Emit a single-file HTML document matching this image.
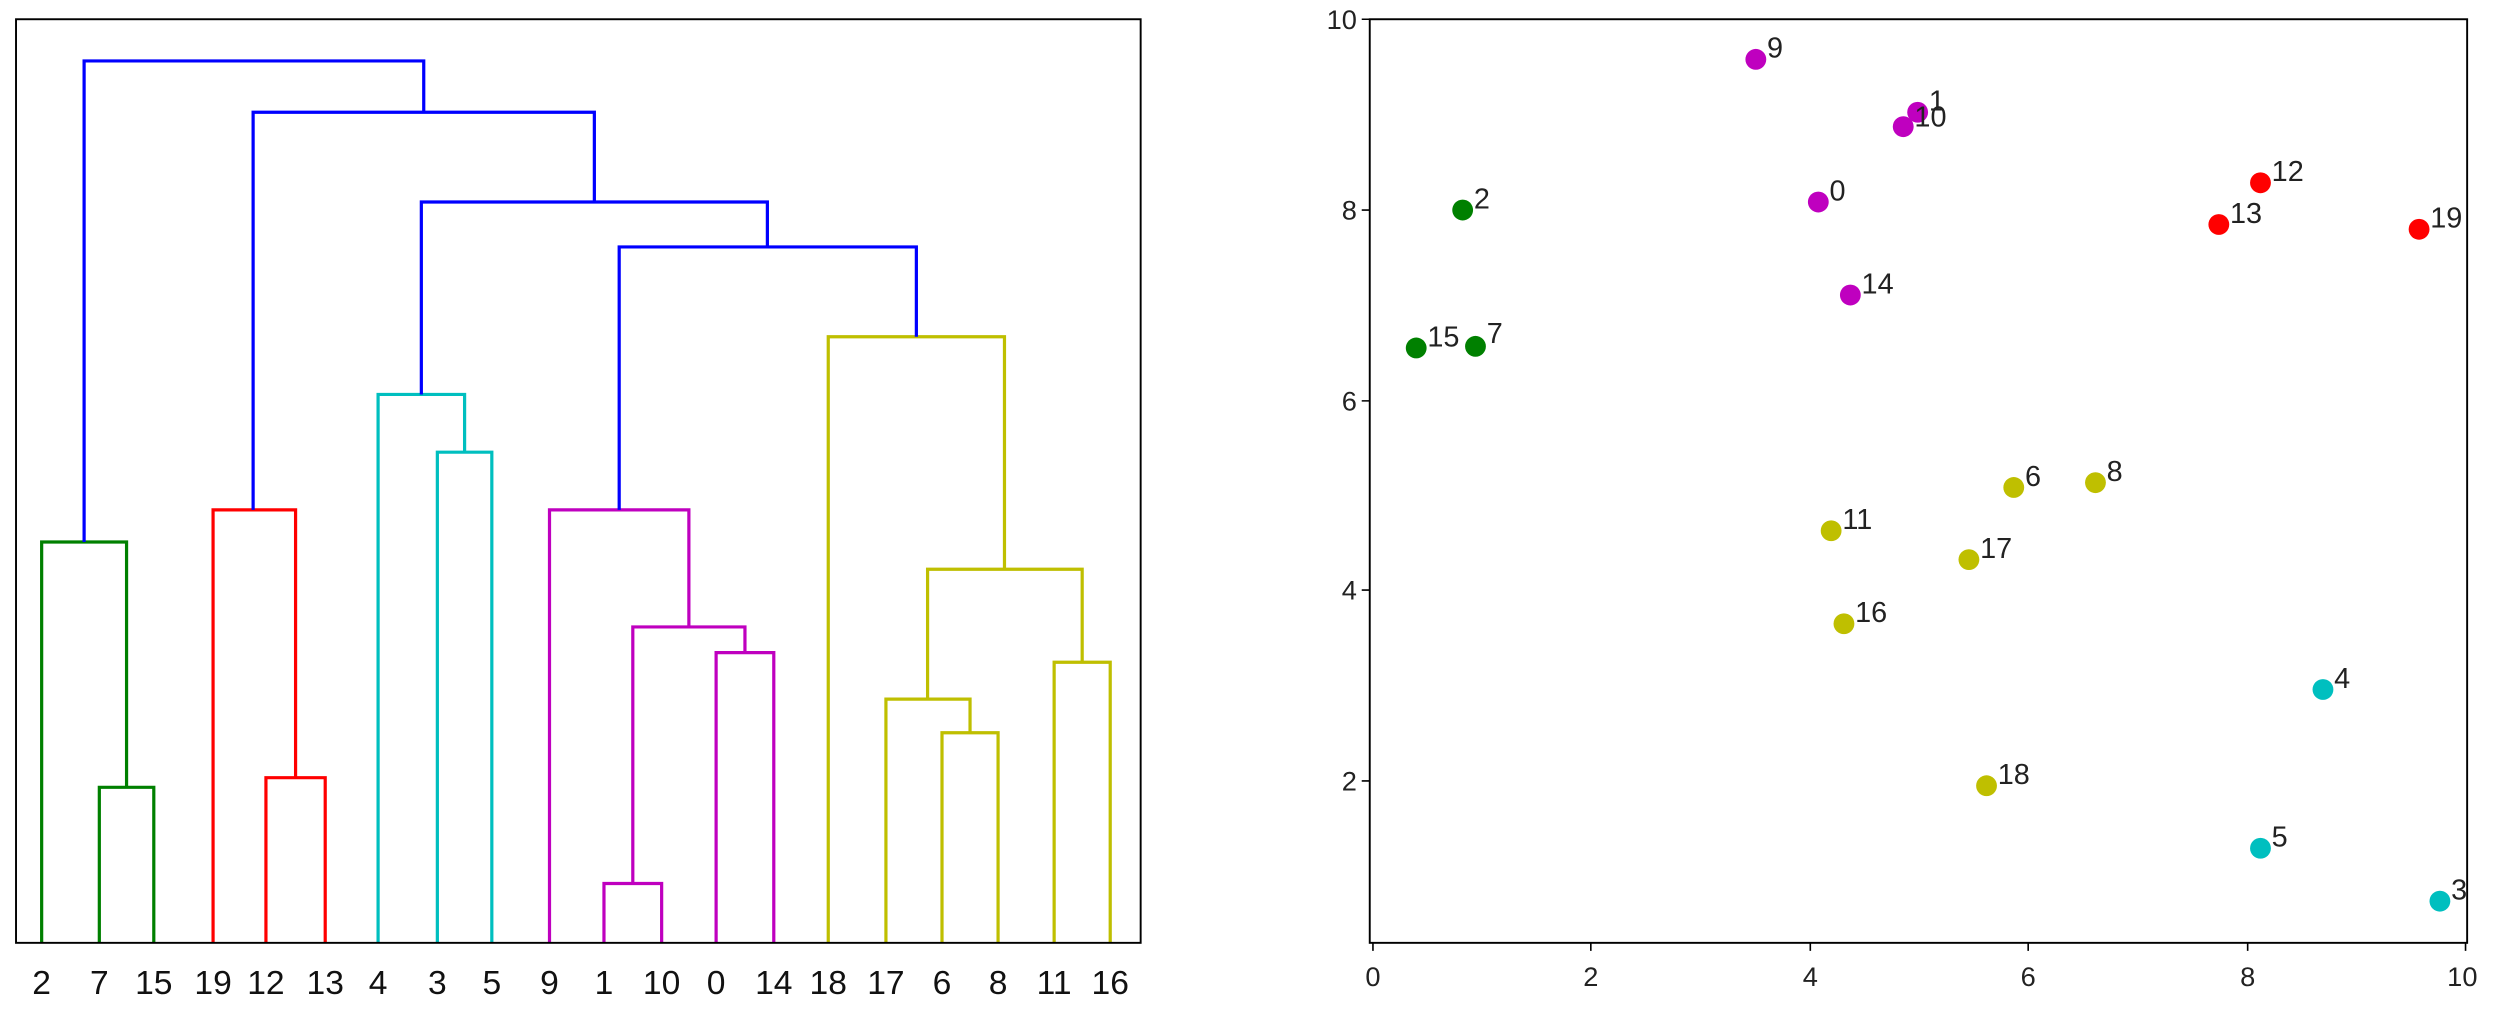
<!DOCTYPE html>
<html><head><meta charset="utf-8"><style>html,body{margin:0;padding:0;background:#fff}svg{display:block}</style></head>
<body>
<svg width="2512" height="1015" viewBox="0 0 1568 633" preserveAspectRatio="none" xmlns="http://www.w3.org/2000/svg" font-family="Liberation Sans, DejaVu Sans, sans-serif">
<rect width="1568" height="633" fill="#fff"/>
<g fill="none" stroke-width="2">
<g stroke="#008000"><path d="M62 588V491H96V588"/><path d="M26 588V338H79V491"/></g>
<g stroke="#ff0000"><path d="M166 588V485H203V588"/><path d="M133 588V318H184.5V485"/></g>
<g stroke="#00bfbf"><path d="M273 588V282H307V588"/><path d="M236 588V246H290V282"/></g>
<g stroke="#bf00bf"><path d="M377 588V551H413V588"/><path d="M447 588V407H483V588"/><path d="M395 551V391H465V407"/><path d="M343 588V318H430V391"/></g>
<g stroke="#bfbf00"><path d="M588 588V457H623V588"/><path d="M553 588V436H605.5V457"/><path d="M658 588V413H693V588"/><path d="M579 436V355H675.5V413"/><path d="M517 588V210H627V355"/></g>
<g stroke="#0000ff"><path d="M386.5 318V154H572V210"/><path d="M263 246V126H479V154"/><path d="M158 318V70H371V126"/><path d="M52.5 338V38H264.5V70"/></g>
</g>
<rect x="10" y="12" width="702" height="576" fill="none" stroke="#000" stroke-width="1.2"/>
<g font-size="21" text-anchor="middle" fill="#111">
<text x="26" y="620">2</text><text x="62" y="620">7</text><text x="96" y="620">15</text><text x="133" y="620">19</text><text x="166" y="620">12</text><text x="203" y="620">13</text><text x="236" y="620">4</text><text x="273" y="620">3</text><text x="307" y="620">5</text><text x="343" y="620">9</text><text x="377" y="620">1</text><text x="413" y="620">10</text><text x="447" y="620">0</text><text x="483" y="620">14</text><text x="517" y="620">18</text><text x="553" y="620">17</text><text x="588" y="620">6</text><text x="623" y="620">8</text><text x="658" y="620">11</text><text x="693" y="620">16</text>
</g>
<rect x="855" y="12" width="685" height="576" fill="none" stroke="#000" stroke-width="1.2"/>
<g stroke="#000" stroke-width="1">
<path d="M857 588v5M993 588v5M1130 588v5M1266 588v5M1403 588v5M1539 588v5"/>
<path d="M855 12h-5M855 131h-5M855 250h-5M855 368h-5M855 487h-5"/>
</g>
<g font-size="17" fill="#222" text-anchor="middle">
<text x="857" y="615">0</text><text x="993" y="615">2</text><text x="1130" y="615">4</text><text x="1266" y="615">6</text><text x="1403" y="615">8</text><text x="1537" y="615">10</text>
</g>
<g font-size="17" fill="#222" text-anchor="end">
<text x="847" y="18">10</text><text x="847" y="137">8</text><text x="847" y="256">6</text><text x="847" y="374">4</text><text x="847" y="493">2</text>
</g>
<g>
<g fill="#bf00bf"><circle cx="1096" cy="37" r="6.5"/><circle cx="1197" cy="70" r="6.5"/><circle cx="1188" cy="79" r="6.5"/><circle cx="1135" cy="126" r="6.5"/><circle cx="1155" cy="184" r="6.5"/></g>
<g fill="#008000"><circle cx="913" cy="131" r="6.5"/><circle cx="884" cy="217" r="6.5"/><circle cx="921" cy="216" r="6.5"/></g>
<g fill="#ff0000"><circle cx="1411" cy="114" r="6.5"/><circle cx="1385" cy="140" r="6.5"/><circle cx="1510" cy="143" r="6.5"/></g>
<g fill="#bfbf00"><circle cx="1257" cy="304" r="6.5"/><circle cx="1308" cy="301" r="6.5"/><circle cx="1143" cy="331" r="6.5"/><circle cx="1229" cy="349" r="6.5"/><circle cx="1151" cy="389" r="6.5"/><circle cx="1240" cy="490" r="6.5"/></g>
<g fill="#00bfbf"><circle cx="1450" cy="430" r="6.5"/><circle cx="1411" cy="529" r="6.5"/><circle cx="1523" cy="562" r="6.5"/></g>
</g>
<g font-size="18" fill="#222">
<text x="1103" y="36">9</text><text x="1204" y="69">1</text><text x="1195" y="79">10</text><text x="1142" y="125">0</text><text x="1162" y="183">14</text>
<text x="920" y="130">2</text><text x="891" y="216">15</text><text x="928" y="214">7</text>
<text x="1418" y="113">12</text><text x="1392" y="139">13</text><text x="1517" y="142">19</text>
<text x="1264" y="303">6</text><text x="1315" y="300">8</text><text x="1150" y="330">11</text><text x="1236" y="348">17</text><text x="1158" y="388">16</text><text x="1247" y="489">18</text>
<text x="1457" y="429">4</text><text x="1418" y="528">5</text><text x="1530" y="561">3</text>
</g>
</svg>
</body></html>
